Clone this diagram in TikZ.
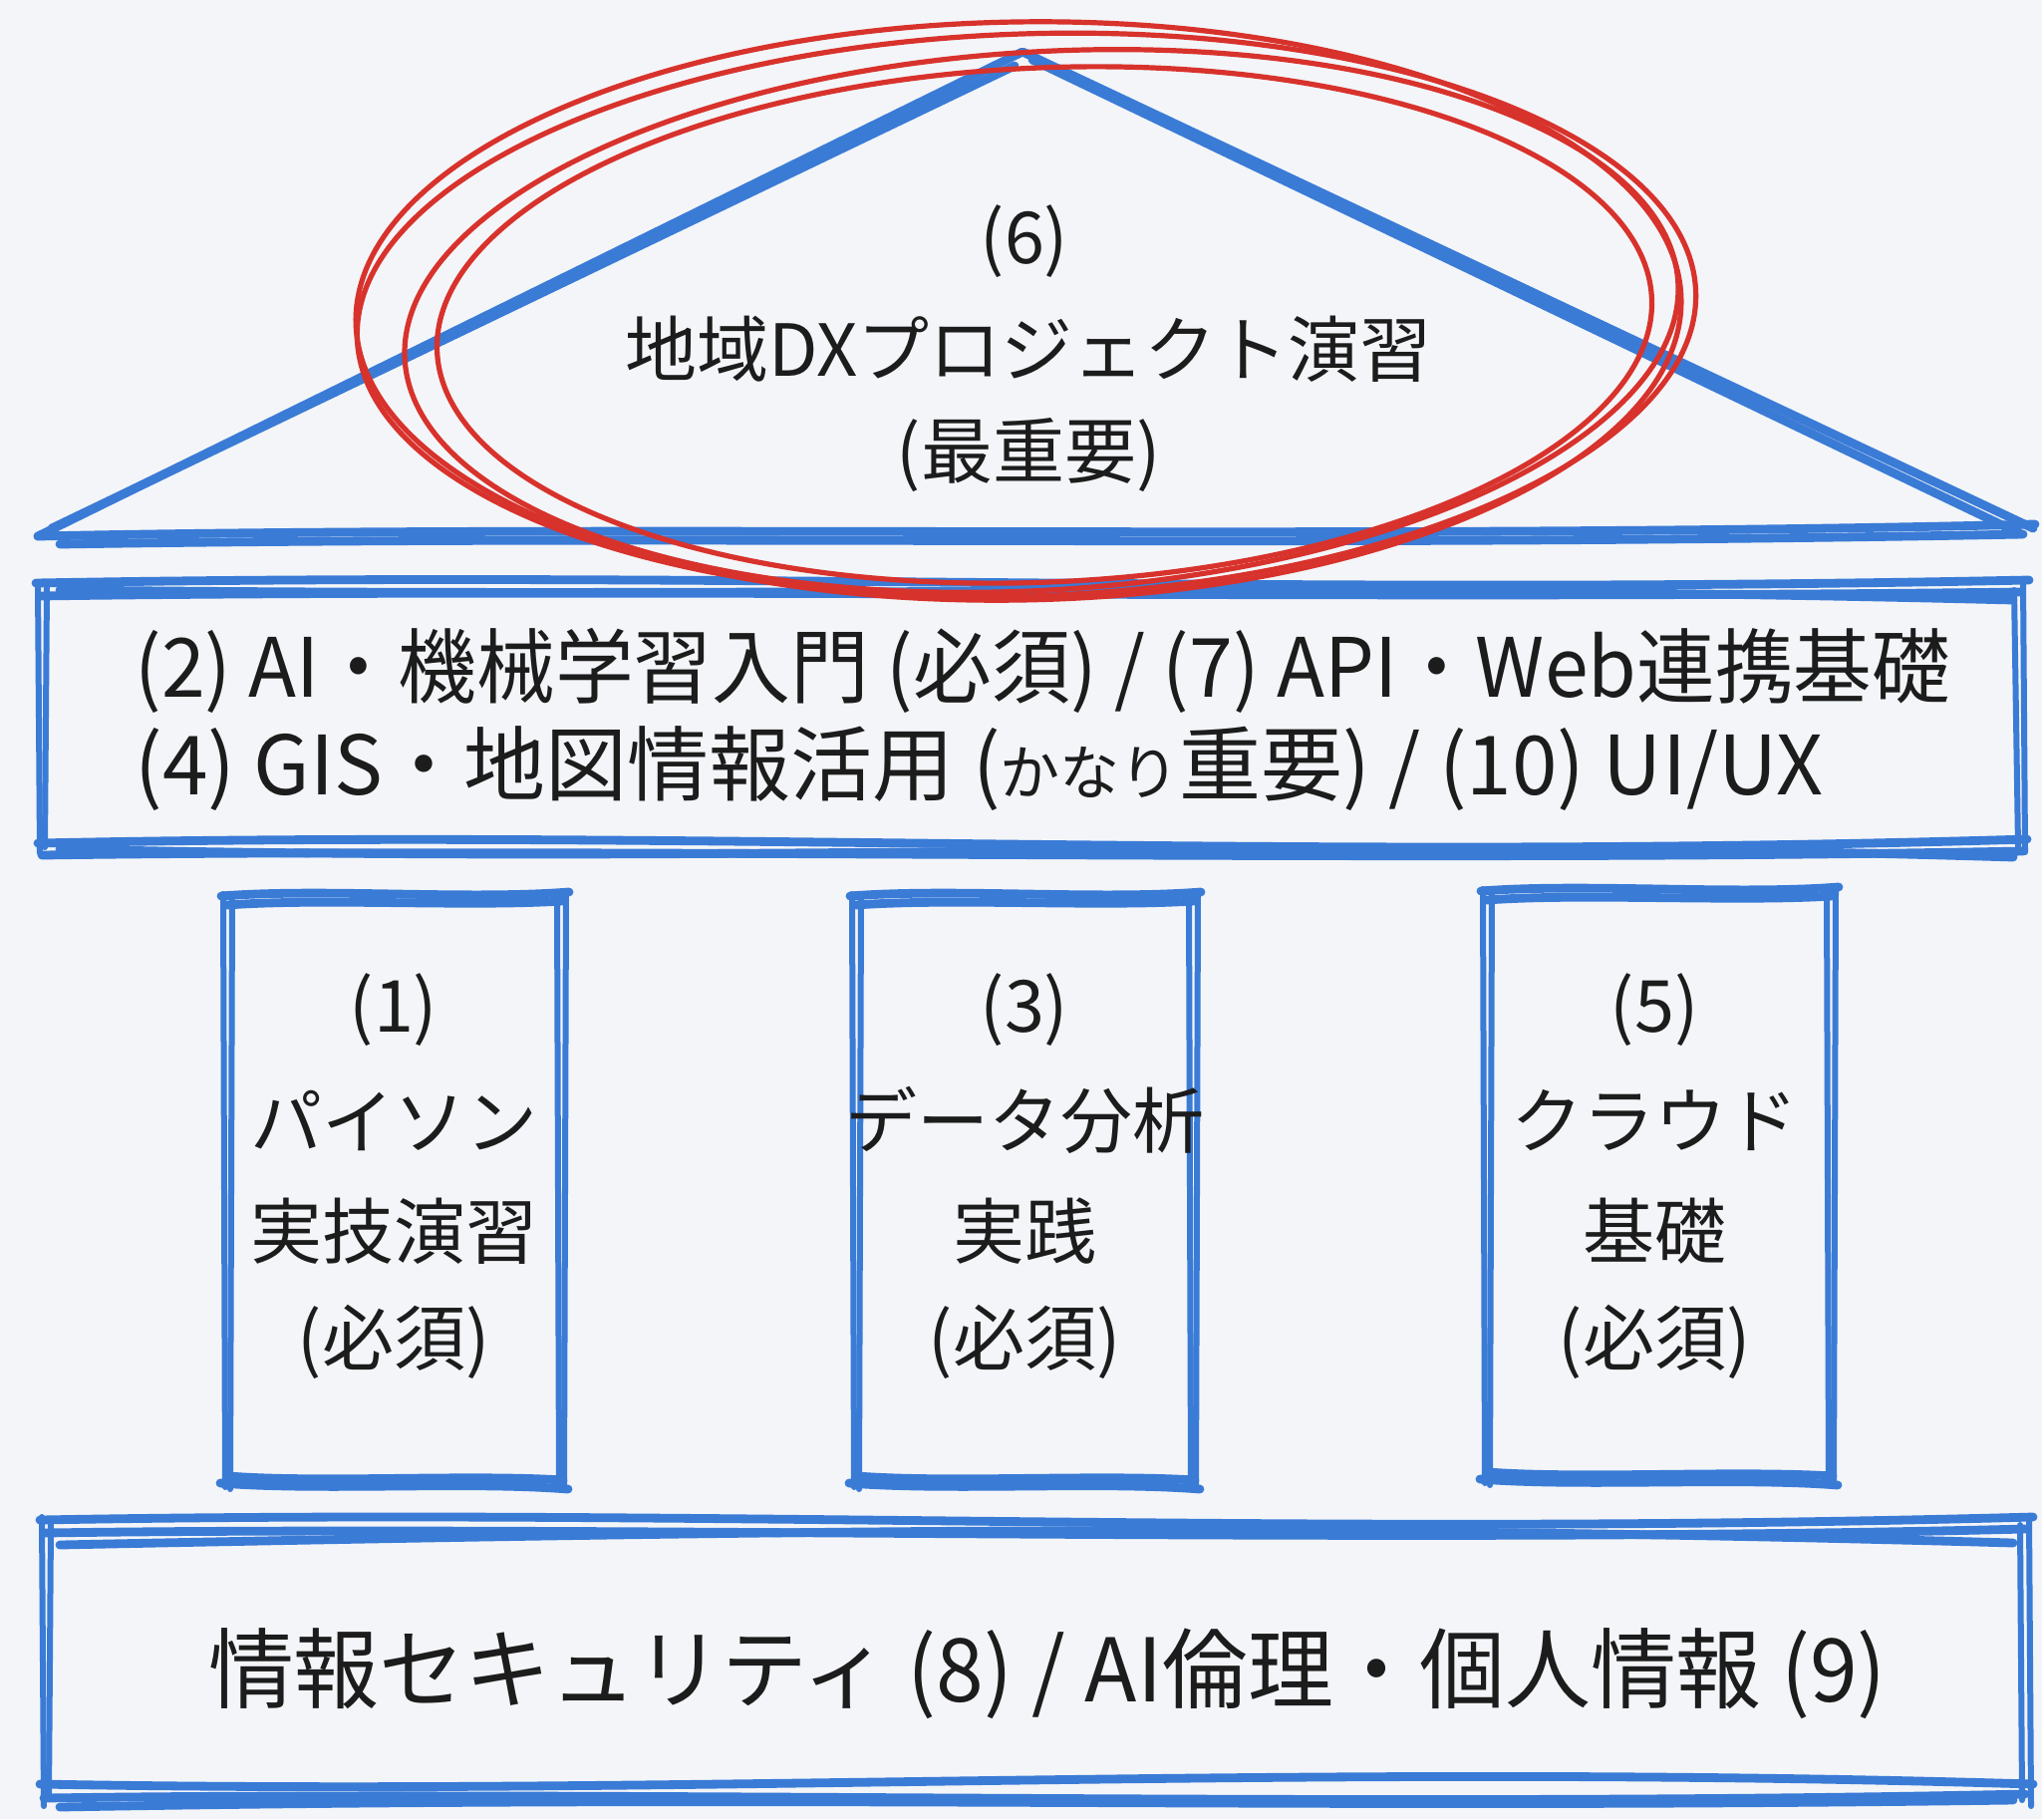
\documentclass[tikz,border=0pt]{standalone}
\usepackage{fontspec}
\setmainfont{Noto Sans CJK JP}
\definecolor{bg}{HTML}{F3F5F8}
\definecolor{pen}{HTML}{3A7BD6}
\definecolor{redpen}{HTML}{D8322C}
\definecolor{ink}{HTML}{1C1C1C}
\tikzset{
  bstroke/.style={draw=pen, line width=4.4pt, line cap=round, line join=round},
  bthin/.style={draw=pen, line width=3pt, line cap=round, line join=round},
  rstroke/.style={draw=redpen, line width=2.6pt},
  txt/.style={text=ink, font=\fontsize{36pt}{44pt}\selectfont, inner sep=0pt},
  bigtxt/.style={text=ink, font=\fontsize{41pt}{48pt}\selectfont, inner sep=0pt},
}
\newcommand{\pillarsk}[4]{%
  \draw[bthin] (#1,#2+2) -- (#1+2,#4-2);
  \draw[bthin] (#1+9,#2+4) -- (#1+7,#4);
  \draw[bthin] (#3,#2) -- (#3-2,#4);
  \draw[bthin] (#3-9,#2+6) -- (#3-7,#4-4);
  \draw[bstroke] (#1-2,#2+4) .. controls (#1+100,#2-4) and (#3-100,#2+8) .. (#3+3,#2);
  \draw[bstroke] (#1+4,#2+13) .. controls (#1+100,#2+6) and (#3-100,#2+15) .. (#3-4,#2+9);
  \draw[bstroke] (#1-3,#4-6) .. controls (#1+100,#4+2) and (#3-100,#4-8) .. (#3+2,#4);
  \draw[bstroke] (#1+5,#4-13) .. controls (#1+100,#4-6) and (#3-100,#4-15) .. (#3-3,#4-9);
}
\begin{document}
\begin{tikzpicture}[x=0.5pt,y=-0.5pt]
\fill[bg] (0,0) rectangle (2049,1825);
\useasboundingbox (0,0) rectangle (2049,1825);

% roof
\draw[bstroke] (38,538) -- (1026,52) -- (2040,530);
\draw[bstroke] (52,530) -- (1018,66);
\draw[bstroke] (1036,60) -- (2028,536);
\draw[bstroke] (38,538) .. controls (600,526) and (1400,542) .. (2042,526);
\draw[bstroke] (60,546) .. controls (700,536) and (1300,550) .. (2030,536);

% beam
\draw[bstroke] (36,585) .. controls (700,573) and (1300,597) .. (2036,582);
\draw[bstroke] (40,598) .. controls (600,590) and (1400,602) .. (2028,594);
\draw[bstroke] (60,592) .. controls (800,600) and (1300,584) .. (2020,602);
\draw[bthin] (38,585) -- (40,856);
\draw[bthin] (47,590) -- (45,850);
\draw[bthin] (2030,583) -- (2032,855);
\draw[bthin] (2021,592) -- (2025,850);
\draw[bstroke] (38,846) .. controls (700,832) and (1300,864) .. (2034,842);
\draw[bstroke] (42,858) .. controls (600,850) and (1400,866) .. (2030,854);
\draw[bstroke] (60,852) .. controls (800,868) and (1300,838) .. (2020,860);

% pillars
\pillarsk{224}{895}{568}{1494}
\pillarsk{855}{895}{1202}{1494}
\pillarsk{1488}{890}{1842}{1490}

% base
\draw[bstroke] (40,1525) .. controls (700,1513) and (1300,1542) .. (2040,1522);
\draw[bstroke] (44,1538) .. controls (600,1530) and (1400,1550) .. (2032,1534);
\draw[bstroke] (60,1550) .. controls (800,1535) and (1300,1528) .. (2020,1548);
\draw[bthin] (42,1522) -- (44,1812);
\draw[bthin] (51,1530) -- (49,1805);
\draw[bthin] (2036,1522) -- (2038,1812);
\draw[bthin] (2027,1530) -- (2029,1806);
\draw[bstroke] (40,1790) .. controls (700,1802) and (1300,1768) .. (2040,1790);
\draw[bstroke] (44,1804) .. controls (600,1796) and (1400,1814) .. (2032,1800);
\draw[bstroke] (60,1813) .. controls (800,1800) and (1300,1816) .. (2020,1806);

% red ellipses
\draw[rstroke, rotate around={2:(1030,316)}] (1030,316) ellipse [x radius=672, y radius=282];
\draw[rstroke, rotate around={3.5:(1045,322)}] (1045,322) ellipse [x radius=640, y radius=270];
\draw[rstroke, rotate around={1:(1022,312)}] (1022,312) ellipse [x radius=665, y radius=290];
\draw[rstroke, rotate around={2.5:(1048,326)}] (1048,326) ellipse [x radius=610, y radius=258];

% texts
\node[txt] (t6a) at (1028,242) {(6)};
\node[txt] (t6b) at (1032,350) {地域DXプロジェクト演習};
\node[txt] (t6c) at (1032,457) {(最重要)};

\node[bigtxt, anchor=west] (b1) at (135,673) {\resizebox{911pt}{\height}{(2) AI・機械学習入門 (必須) / (7) API・Web連携基礎}};
\node[bigtxt, anchor=west] (b2) at (135,771) {\resizebox{847pt}{\height}{(4) GIS・地図情報活用 ({\fontsize{30pt}{32pt}\selectfont かなり}重要) / (10) UI/UX}};

\node[txt] (p1a) at (395,1013) {(1)};
\node[txt] (p1b) at (395,1124) {パイソン};
\node[txt] (p1c) at (395,1235) {実技演習};
\node[txt] (p1d) at (395,1346) {(必須)};

\node[txt] (p3a) at (1028,1013) {(3)};
\node[txt] (p3b) at (1028,1124) {データ分析};
\node[txt] (p3c) at (1028,1235) {実践};
\node[txt] (p3d) at (1028,1346) {(必須)};

\node[txt] (p5a) at (1660,1013) {(5)};
\node[txt] (p5b) at (1660,1124) {クラウド};
\node[txt] (p5c) at (1660,1235) {基礎};
\node[txt] (p5d) at (1660,1346) {(必須)};

\node[bigtxt] (base) at (1051,1679) {\resizebox{842pt}{\height}{\fontsize{44pt}{50pt}\selectfont 情報セキュリティ (8) / AI倫理・個人情報 (9)}};
\end{tikzpicture}
\end{document}
